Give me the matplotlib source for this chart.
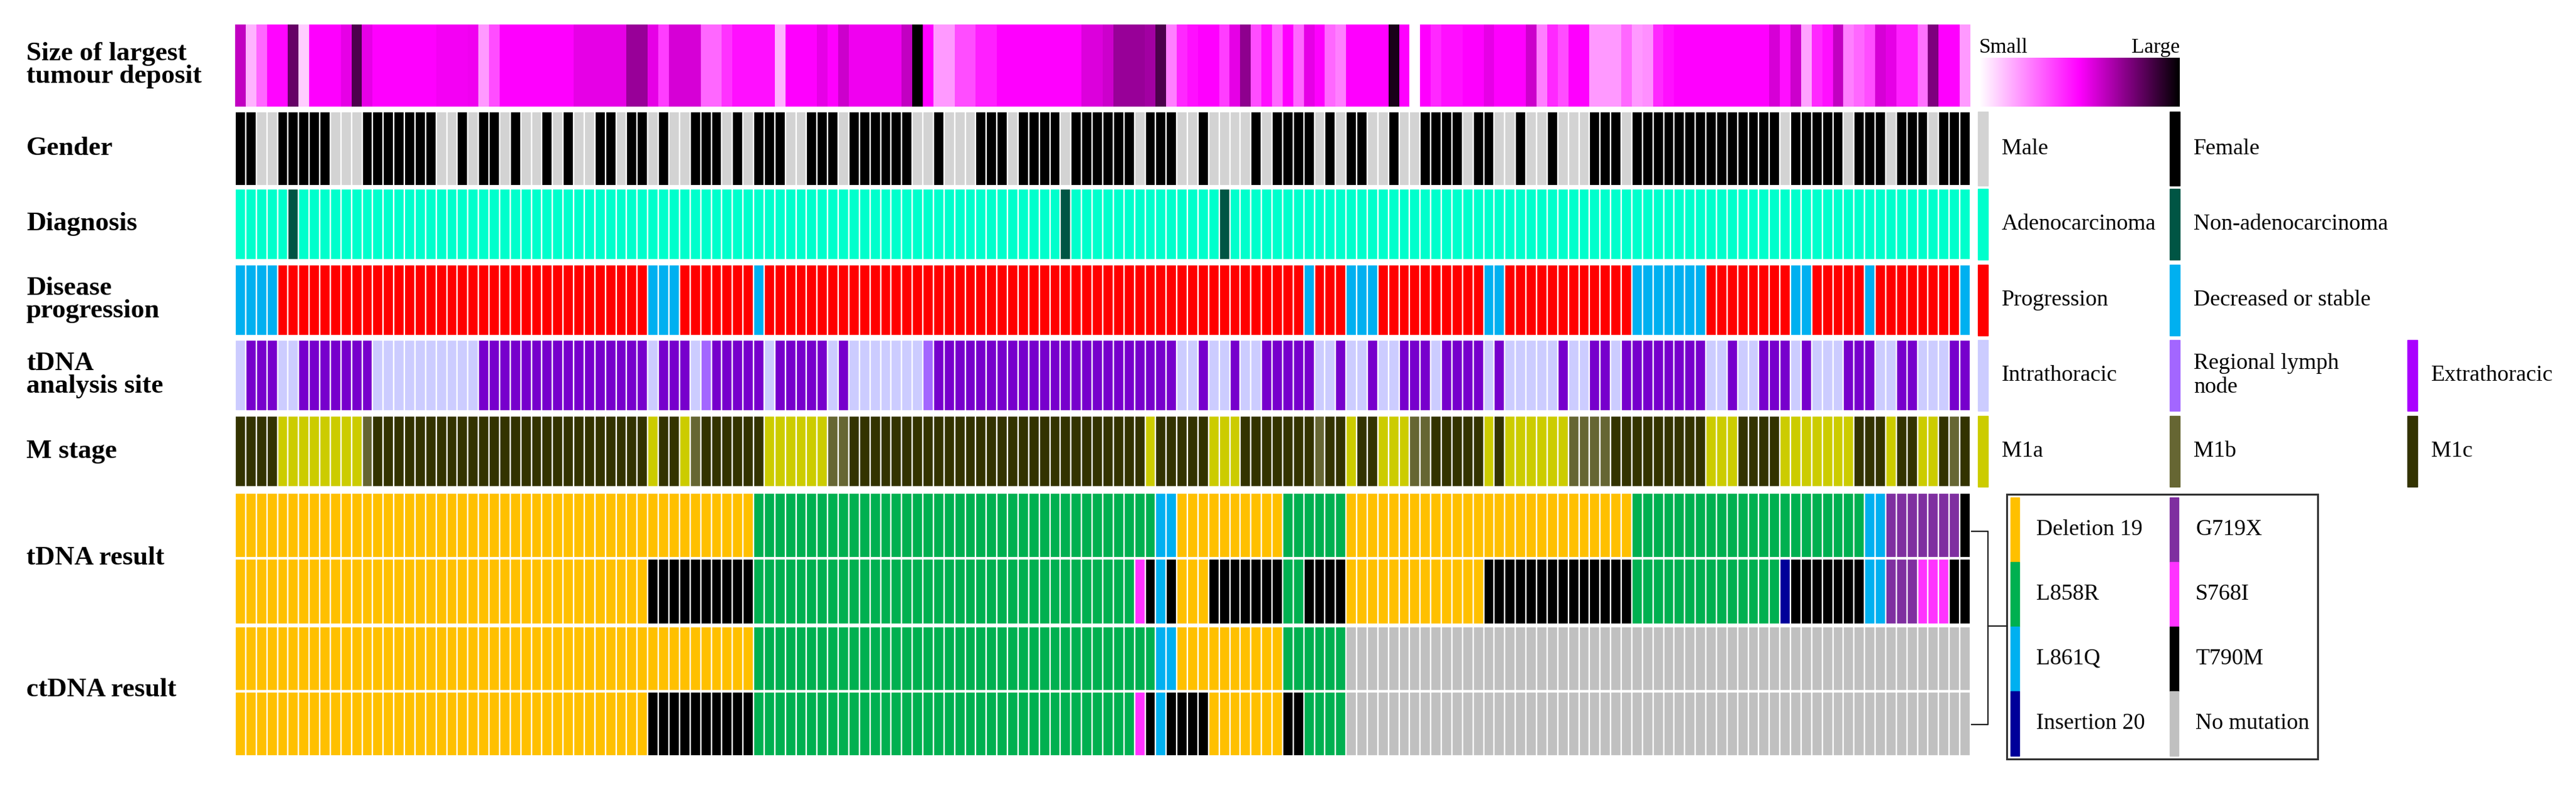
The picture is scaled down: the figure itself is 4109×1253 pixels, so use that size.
import numpy as np
import matplotlib
matplotlib.use("Agg")
from matplotlib import pyplot as plt
from matplotlib.colors import LinearSegmentedColormap
from matplotlib.patches import Rectangle

plt.rcParams['font.family'] = ['Liberation Serif', 'DejaVu Serif']

# ---- data: one entry per patient (164 columns) ----
size_values = (
    [0.62, 0.15, 0.3, 0.49, 0.49, 0.8, 0.1, 0.5, 0.5, 0.5, 0.55, 0.85, 0.55, 0.5,
     0.5, 0.5, 0.5, 0.5, 0.5, 0.52, 0.52, 0.52, 0.53, 0.2, 0.35, 0.5, 0.5, 0.5]
    + [0.5] * 4 + [0.55] * 5 + [0.7, 0.7, 0.55, 0.38, 0.58, 0.58, 0.58, 0.3, 0.3, 0.4]
    + [0.47] * 4 + [0.15, 0.5, 0.5, 0.5]
    + [0.55, 0.5, 0.6] + [0.53] * 5 + [0.62, 1.0, 0.5, 0.2, 0.2, 0.35, 0.35, 0.44, 0.44]
    + [0.5] * 8 + [0.57, 0.57]
    + [0.6, 0.7, 0.7, 0.7, 0.68, 0.85, 0.25, 0.42, 0.47, 0.5, 0.5, 0.38, 0.55, 0.72,
       0.35, 0.47, 0.3, 0.5, 0.3, 0.55, 0.5, 0.3, 0.25, 0.5, 0.5, 0.5, 0.5]
    + [0.95, 0.5, np.nan, 0.5, 0.42, 0.47, 0.47, 0.5, 0.5, 0.55, 0.5, 0.5, 0.5, 0.6,
       0.25, 0.42, 0.35, 0.5, 0.5, 0.2, 0.2, 0.2, 0.3, 0.2, 0.22, 0.42, 0.47]
    + [0.5] * 9 + [0.58, 0.47, 0.6, 0.18, 0.42, 0.47, 0.62, 0.25, 0.3, 0.35, 0.58, 0.55,
                   0.44, 0.44, 0.28, 0.75, 0.5, 0.5, 0.2]
)

# M = male, F = female
gender = ("FFMMFFFFFMMMFFFFFFFMMFMFFMF"
          "MMFMFMMFFMFFMFMMFFFMFMFFFMMF"
          "FFMFFFFFFMMFMMMFFFMFFFFMFFF"
          "FFFMFFFMMFMMMMFMFFFFMFMFFMM"
          "FMMFFFFMFFMMFMMFMMMFFFMFFFF"
          "FFFFFFFFFFMFFFFFMFFFMFFFMFFF")

# A = adenocarcinoma, N = non-adenocarcinoma
diagnosis = "A" * 5 + "N" + "A" * 72 + "N" + "A" * 14 + "N" + "A" * 70

# P = progression, D = decreased or stable
progression = ("D" * 4 + "P" * 35 + "D" * 3 + "P" * 7 + "D" + "P" * 51 + "D" + "P" * 3
               + "D" * 3 + "P" * 10 + "D" * 2 + "P" * 12 + "D" * 7 + "P" * 8 + "D" * 2
               + "P" * 5 + "D" + "P" * 8 + "D")

# I = intrathoracic, R = regional lymph node, E = extrathoracic
site = ("I" + "E" * 3 + "I" * 2 + "E" * 7 + "I" * 10 + "E" * 16 + "I" + "E" * 3 + "I" + "R"
        + "E" * 5 + "I" + "E" * 5 + "I" + "E" + "I" * 7 + "R" + "E" * 23 + "I" * 2 + "E"
        + "I" * 2 + "E" + "I" * 2 + "E" * 5 + "I" * 2 + "E" + "I" * 2 + "E" + "I" * 2
        + "E" * 3 + "I" + "E" * 4 + "I" + "E" + "I" * 5 + "E" + "I" * 2 + "E" * 2 + "I"
        + "E" * 8 + "I" * 2 + "E" + "I" * 2 + "E" * 3 + "I" + "E" + "I" * 3 + "E" * 3
        + "I" * 2 + "E" * 2 + "I" * 3 + "E" * 2)

# a = M1a, b = M1b, c = M1c
m_stage = ("c" * 4 + "a" * 8 + "b" + "c" * 26 + "a" + "c" * 2 + "a" + "b" + "c" * 6
           + "a" * 6 + "b" * 2 + "c" * 28 + "a" + "c" * 5 + "a" * 3 + "c" * 7 + "b"
           + "c" * 2 + "a" + "c" * 2 + "a" * 3 + "b" * 2 + "c" * 5 + "a" + "c" + "a" * 6
           + "b" * 4 + "c" * 9 + "a" * 3 + "c" * 4 + "a" * 7 + "c" * 3 + "a" + "c" * 2
           + "a" * 2 + "c" + "b" + "c")

# D del19, L L858R, Q L861Q, I ins20, G G719X, S S768I, T T790M, N none
tdna_1 = ("D" * 49 + "L" * 38 + "Q" * 2 + "D" * 10 + "L" * 6 + "D" * 27 + "L" * 22
          + "Q" * 2 + "G" * 7 + "T")
tdna_2 = ("D" * 39 + "T" * 10 + "L" * 36 + "S" + "T" + "Q" + "T" + "D" * 3 + "T" * 7
          + "L" * 2 + "T" * 4 + "D" * 13 + "T" * 14 + "L" * 14 + "I" + "T" * 7 + "Q" * 2
          + "G" * 3 + "S" * 3 + "T" * 2)
ctdna_1 = "D" * 49 + "L" * 38 + "Q" * 2 + "D" * 10 + "L" * 6 + "N" * 59
ctdna_2 = ("D" * 39 + "T" * 10 + "L" * 36 + "S" + "T" + "Q" + "T" * 4 + "D" * 7
           + "T" * 2 + "L" * 4 + "N" * 59)

n_cols = len(size_values)

gender_col = {"M": "#d3d3d3", "F": "#000000"}
diag_col = {"A": "#00ffcc", "N": "#005544"}
prog_col = {"P": "#ff0000", "D": "#00b0f0"}
site_col = {"I": "#ccccff", "R": "#a366ff", "E": "#7700cc"}
m_col = {"a": "#cccc00", "b": "#666633", "c": "#333300"}
mut_col = {"D": "#ffc000", "L": "#00b050", "Q": "#00b0f0", "I": "#000099",
           "G": "#7f2fa0", "S": "#ff33ff", "T": "#000000", "N": "#c0c0c0"}

size_cmap = LinearSegmentedColormap.from_list("sz", ["#ffffff", "#ff00ff", "#000000"])
size_cmap.set_bad("white")

W, H = 4109, 1253
fig = plt.figure(figsize=(W / 100, H / 100), dpi=100)

x0, x1, y_top, y_bot = 375, 3143, 39, 1205
ax = fig.add_axes([x0 / W, 1 - y_bot / H, (x1 - x0) / W, (y_bot - y_top) / H])
ax.set_xlim(0, n_cols)
ax.set_ylim(y_bot, y_top)
ax.axis("off")

ax.imshow(np.array(size_values)[None, :], cmap=size_cmap, vmin=0, vmax=1,
          aspect="auto", interpolation="nearest", extent=[0, n_cols, 170, 39])

bands = [(gender, gender_col, 178, 296), (diagnosis, diag_col, 301, 414),
         (progression, prog_col, 422, 535), (site, site_col, 542, 655),
         (m_stage, m_col, 663, 776), (tdna_1, mut_col, 786, 889),
         (tdna_2, mut_col, 891, 995), (ctdna_1, mut_col, 999, 1101),
         (ctdna_2, mut_col, 1103, 1205)]
xs = np.arange(n_cols) + 0.5
for codes, cmap, top, bot in bands:
    ax.bar(xs, bot - top, bottom=top, width=1.0, align="center",
           color=[cmap[c] for c in codes], edgecolor="white", linewidth=1.6)

# ---- overlay for labels and legends ----
ov = fig.add_axes([0, 0, 1, 1])
ov.set_xlim(0, W)
ov.set_ylim(H, 0)
ov.axis("off")

row_labels = [("Size of largest\ntumour deposit", 104), ("Gender", 237),
              ("Diagnosis", 357), ("Disease\nprogression", 478),
              ("tDNA\nanalysis site", 598), ("M stage", 720),
              ("tDNA result", 890), ("ctDNA result", 1100)]
for txt, y in row_labels:
    ov.text(42, y, txt, fontsize=31, fontweight="bold", va="center", ha="left",
            linespacing=0.92)

# colour bar for size
grad = np.linspace(0, 1, 256)[None, :]
ov.imshow(grad, cmap=size_cmap, aspect="auto", extent=[3157, 3477, 170, 92], zorder=2)
ov.text(3157, 76, "Small", fontsize=24, va="center", ha="left")
ov.text(3477, 76, "Large", fontsize=24, va="center", ha="right")

legend_rows = [
    (178, 296, [("Male", "#d3d3d3"), ("Female", "#000000")]),
    (301, 414, [("Adenocarcinoma", "#00ffcc"), ("Non-adenocarcinoma", "#005544")]),
    (422, 535, [("Progression", "#ff0000"), ("Decreased or stable", "#00b0f0")]),
    (542, 655, [("Intrathoracic", "#ccccff"), ("Regional lymph\nnode", "#a366ff"),
                ("Extrathoracic", "#aa00ff")]),
    (663, 776, [("M1a", "#cccc00"), ("M1b", "#666633"), ("M1c", "#333300")]),
]
sw_x = [3155, 3461, 3840]
for top, bot, items in legend_rows:
    for k, (txt, col) in enumerate(items):
        ov.add_patch(Rectangle((sw_x[k], top), 16, bot - top, color=col))
        ov.text(sw_x[k] + 38, (top + bot) / 2, txt, fontsize=26, va="center",
                ha="left", linespacing=1.2)

# mutation legend box
ov.add_patch(Rectangle((3201, 788), 496, 422, fill=False, edgecolor="#333333",
                       linewidth=2.2))
mut_items = [["Deletion 19", "L858R", "L861Q", "Insertion 20"],
             ["G719X", "S768I", "T790M", "No mutation"]]
mut_keys = [["D", "L", "Q", "I"], ["G", "S", "T", "N"]]
row_h = 412 / 4
for k, sx in enumerate([3207, 3461]):
    for j in range(4):
        top = 793 + j * row_h
        ov.add_patch(Rectangle((sx, top), 14, row_h, color=mut_col[mut_keys[k][j]]))
        ov.text(sx + 41, top + row_h / 2, mut_items[k][j], fontsize=26, va="center",
                ha="left")

# bracket joining tDNA/ctDNA rows to the legend
ov.plot([3145, 3171, 3171, 3145], [847, 847, 1155, 1155], color="#222222", lw=1.6)
ov.plot([3171, 3201], [998, 998], color="#222222", lw=1.6)

fig.savefig("out.png", dpi=100)
